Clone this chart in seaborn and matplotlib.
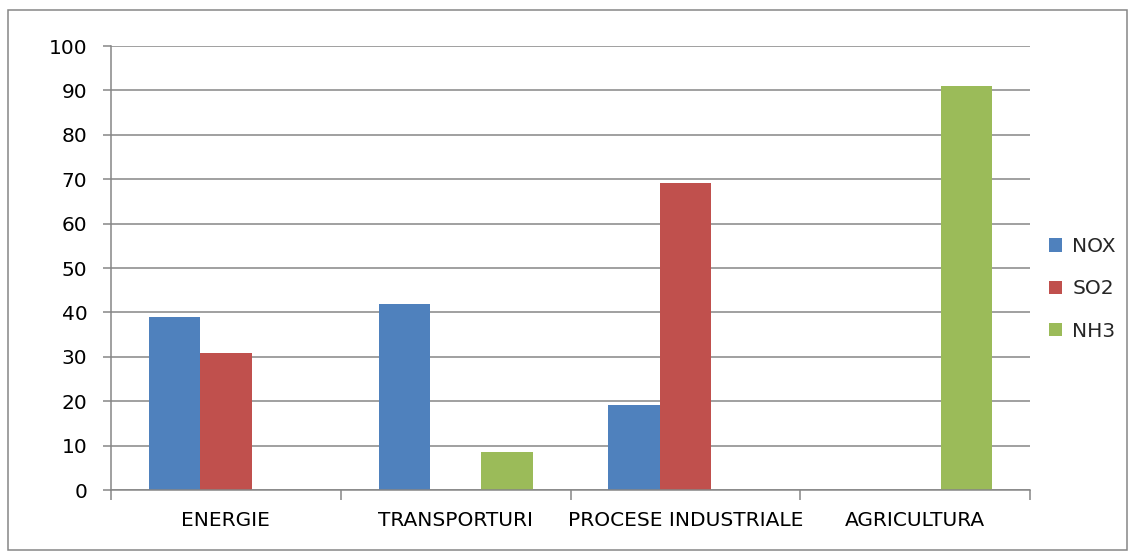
import pandas as pd
import matplotlib
matplotlib.use("Agg")
import matplotlib.pyplot as plt
import seaborn as sns
from matplotlib.patches import Rectangle
from matplotlib.ticker import FixedLocator

categories = ["ENERGIE", "TRANSPORTURI", "PROCESE INDUSTRIALE", "AGRICULTURA"]
series = ["NOX", "SO2", "NH3"]
nox = [39.0, 41.9, 19.1, 0.0]
so2 = [30.8, 0.0, 69.2, 0.0]
nh3 = [0.0, 8.6, 0.0, 91.0]
colors = ["#4F81BD", "#C0504D", "#9BBB59"]

rows = []
for name, vals in zip(series, [nox, so2, nh3]):
    for cat, v in zip(categories, vals):
        rows.append({"category": cat, "pollutant": name, "value": v})
df = pd.DataFrame(rows)

sns.set_theme(style="white")
plt.rcParams["font.family"] = ["DejaVu Sans"]

grid_color = "#868686"
fs = 14.5
fig = plt.figure(figsize=(11.33, 5.54), dpi=100)
ax = fig.add_axes([111 / 1133, 1 - 490 / 554, (1030 - 111) / 1133, (490 - 46) / 554])

sns.barplot(data=df, x="category", y="value", hue="pollutant", order=categories,
            hue_order=series, palette=colors, width=0.67, saturation=1,
            linewidth=0, ax=ax, legend=True)

ax.set_ylim(0, 100)
ax.set_xlim(-0.5, len(categories) - 0.5)
ax.set_yticks(range(0, 101, 10))
ax.yaxis.grid(True, color=grid_color, linewidth=1.1)
ax.set_axisbelow(True)
ax.set_xlabel("")
ax.set_ylabel("")

for side in ["top", "right"]:
    ax.spines[side].set_visible(False)
for side in ["left", "bottom"]:
    ax.spines[side].set_color(grid_color)
    ax.spines[side].set_linewidth(1.1)

ax.tick_params(axis="y", which="major", length=6, color=grid_color, width=1.1,
               labelsize=fs, labelcolor="black", pad=11, left=True)
ax.tick_params(axis="x", which="major", length=0, labelsize=fs, labelcolor="black", pad=15)
ax.xaxis.set_minor_locator(FixedLocator([i - 0.5 for i in range(len(categories) + 1)]))
ax.tick_params(axis="x", which="minor", length=7, color=grid_color, width=1.1, bottom=True)

handles, labels = ax.get_legend_handles_labels()
ax.legend(handles, labels, loc="center left", bbox_to_anchor=(1.021, 0.453),
          frameon=False, fontsize=fs, handlelength=0.65, handleheight=0.65,
          handletextpad=0.5, labelspacing=1.15, borderpad=0, borderaxespad=0)

fig.patches.append(Rectangle((8 / 1133, 1 - 550 / 554), (1127 - 8) / 1133, (550 - 10) / 554,
                             transform=fig.transFigure, fill=False,
                             edgecolor=grid_color, linewidth=1.1))

fig.savefig("out.png", dpi=100)
